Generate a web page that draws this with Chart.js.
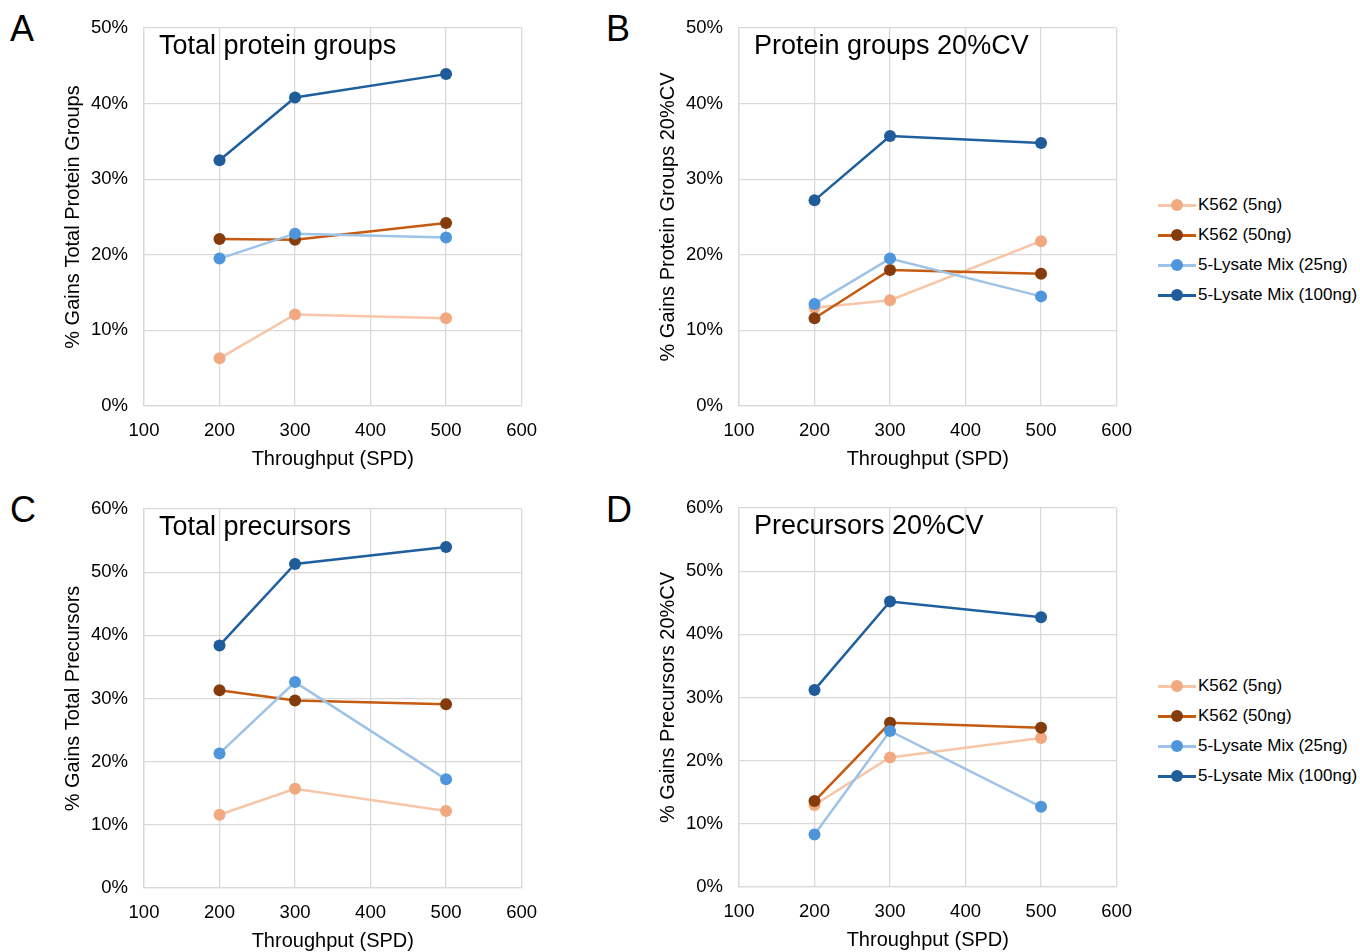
<!DOCTYPE html>
<html>
<head>
<meta charset="utf-8">
<script src="https://cdn.jsdelivr.net/npm/chart.js@4.4.1/dist/chart.umd.min.js"></script>
<style>
  body { margin: 0; background: #fff; font-family: "Liberation Sans", Arial, sans-serif; }
  .wrap { position: relative; width: 1360px; height: 952px; }
  .panel { position: absolute; width: 494px; }
  .letter { position: absolute; font-size: 36px; color: #000; }
  .legend { position: absolute; left: 1158px; font-size: 17px; color: #000; }
  .legend .item { position: relative; height: 30px; line-height: 30px; padding-left: 40px; white-space: nowrap; }
  .legend .ln { position: absolute; left: 0; top: 14px; width: 38px; height: 2.5px; }
  .legend .dot { position: absolute; left: 13px; top: 9px; width: 12px; height: 12px; border-radius: 50%; }
</style>
</head>
<body>
<div class="wrap">
  <div class="letter" style="left:10px;top:8px">A</div>
  <div class="letter" style="left:606px;top:8px">B</div>
  <div class="letter" style="left:10px;top:489px">C</div>
  <div class="letter" style="left:606px;top:489px">D</div>
  <div class="panel" style="left:57px;top:0px;height:475px"><canvas id="chartA"></canvas></div>
  <div class="panel" style="left:652px;top:0px;height:475px"><canvas id="chartB"></canvas></div>
  <div class="panel" style="left:57px;top:481px;height:476px"><canvas id="chartC"></canvas></div>
  <div class="panel" style="left:652px;top:480px;height:476px"><canvas id="chartD"></canvas></div>
  <div class="legend" id="legendB" style="top:190px"></div>
  <div class="legend" id="legendD" style="top:671px"></div>
</div>
<script>
// throughput in samples per day
const throughput = [200, 300, 500];
const seriesNames = ['K562 (5ng)', 'K562 (50ng)', '5-Lysate Mix (25ng)', '5-Lysate Mix (100ng)'];
const lineColors = ['#F7C6A8', '#C55A11', '#9DC3E6', '#1F5F9E'];
const dotColors = ['#F1A982', '#843C0C', '#4E95DB', '#1F5C99'];

// % gains, order matches seriesNames
const totalProteinGroups = [
  [6.3, 12.1, 11.6],
  [22.1, 22.0, 24.2],
  [19.5, 22.8, 22.3],
  [32.5, 40.8, 43.9]
];
const proteinGroupsCV = [
  [13.0, 14.0, 21.8],
  [11.6, 18.0, 17.5],
  [13.5, 19.5, 14.5],
  [27.2, 35.7, 34.8]
];
const totalPrecursors = [
  [11.6, 15.7, 12.2],
  [31.3, 29.7, 29.1],
  [21.3, 32.6, 17.2],
  [38.4, 51.3, 54.0]
];
const precursorsCV = [
  [13.0, 20.5, 23.6],
  [13.6, 26.0, 25.2],
  [8.3, 24.7, 12.7],
  [31.2, 45.2, 42.7]
];

const fontFamily = '"Liberation Sans", Arial, sans-serif';
const gridColor = '#D9D9D9';

const panelTitle = {
  id: 'panelTitle',
  afterDraw(chart, args, opts) {
    const ctx = chart.ctx;
    const area = chart.chartArea;
    ctx.save();
    ctx.font = '27px ' + fontFamily;
    ctx.fillStyle = '#000';
    ctx.textBaseline = 'middle';
    ctx.fillText(opts.text, area.left + 15, area.top + 19);
    ctx.restore();
  }
};

const makeChart = (id, values, title, yTitle, yMax) => {
  const datasets = values.map((vals, i) => ({
    label: seriesNames[i],
    data: throughput.map((x, j) => ({ x: x, y: vals[j] })),
    borderColor: lineColors[i],
    backgroundColor: dotColors[i],
    pointBackgroundColor: dotColors[i],
    pointBorderWidth: 0,
    pointRadius: 6,
    borderWidth: 2.5,
    tension: 0,
    order: 4 - i
  }));

  return new Chart(document.getElementById(id), {
    type: 'line',
    data: { datasets: datasets },
    plugins: [panelTitle],
    options: {
      responsive: true,
      maintainAspectRatio: false,
      animation: false,
      layout: { padding: { top: 28, right: 20, left: 0, bottom: 0 } },
      plugins: {
        legend: { display: false },
        tooltip: { enabled: false },
        panelTitle: { text: title }
      },
      scales: {
        x: {
          type: 'linear',
          min: 100,
          max: 600,
          afterFit: (scale) => { scale.height = 69; },
          ticks: { stepSize: 100, color: '#000', padding: 14, font: { size: 18.5, family: fontFamily } },
          grid: { color: gridColor, lineWidth: 1.3, drawTicks: false },
          border: { color: gridColor, width: 1.3 },
          title: { display: true, text: 'Throughput (SPD)', color: '#000', font: { size: 20, family: fontFamily } }
        },
        y: {
          min: 0,
          max: yMax,
          afterFit: (scale) => { scale.width = 87; },
          ticks: {
            stepSize: 10,
            color: '#000',
            padding: 16,
            font: { size: 18.5, family: fontFamily },
            callback: (v) => v + '%'
          },
          grid: { color: gridColor, lineWidth: 1.3, drawTicks: false },
          border: { color: gridColor, width: 1.3 },
          title: { display: true, text: yTitle, color: '#000', font: { size: 20, family: fontFamily } }
        }
      }
    }
  });
};

makeChart('chartA', totalProteinGroups, 'Total protein groups', '% Gains Total Protein Groups', 50);
makeChart('chartB', proteinGroupsCV, 'Protein groups 20%CV', '% Gains Protein Groups 20%CV', 50);
makeChart('chartC', totalPrecursors, 'Total precursors', '% Gains Total Precursors', 60);
makeChart('chartD', precursorsCV, 'Precursors 20%CV', '% Gains Precursors 20%CV', 60);

const buildLegend = (id) => {
  const box = document.getElementById(id);
  seriesNames.forEach((name, i) => {
    const item = document.createElement('div');
    item.className = 'item';
    item.innerHTML = '<span class="ln" style="background:' + lineColors[i] + '"></span>' +
      '<span class="dot" style="background:' + dotColors[i] + '"></span>' + name;
    box.appendChild(item);
  });
};
buildLegend('legendB');
buildLegend('legendD');
</script>
</body>
</html>
